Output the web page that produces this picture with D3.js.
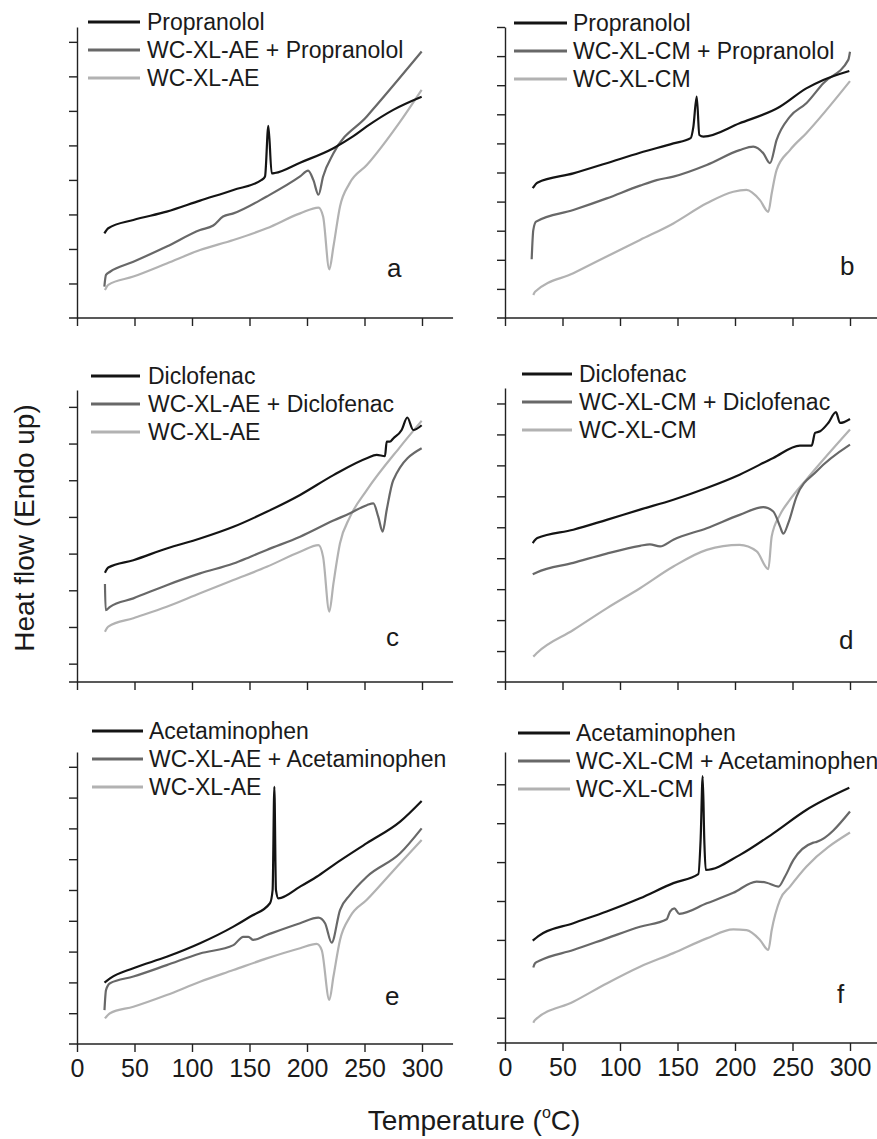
<!DOCTYPE html>
<html>
<head>
<meta charset="utf-8">
<script src="https://cdn.jsdelivr.net/npm/d3@7"></script>
<style>
body { margin: 0; background: #fff; }
svg { display: block; font-family: "Liberation Sans", Arial, sans-serif; }
</style>
</head>
<body>
<div id="chart"></div>
<script>

///////////////////////////////////////////////////////////////////////
// DSC curves, [ temperature (C), heat flow (arb. units) ]

const a_drug = [ [23.8,2.45],[27.2,2.60],[49,2.84],[78,3.08],[107,3.40],[136,3.71],[160.6,4.0],[163.5,4.10],[166.4,5.57],[169.3,4.19],[172,4.2],[194,4.50],[223,4.92],[240,5.26],[252,5.55],[275,6.03],[299.7,6.41] ];
const a_mix  = [ [23.8,0.91],[25.2,1.25],[28.7,1.34],[49,1.63],[78,2.07],[107,2.55],[118.5,2.68],[127,2.94],[136,3.03],[165,3.52],[194,4.10],[201,4.27],[205.5,4.0],[210,3.57],[214,4.10],[223,4.77],[252,5.84],[299.7,7.72] ];
const a_poly = [ [24.3,0.81],[27.2,0.96],[49,1.20],[78,1.58],[107,1.97],[136,2.26],[165,2.60],[194,3.03],[210,3.20],[214,2.94],[219.4,1.41],[223,2.07],[228.7,3.23],[237,3.90],[252,4.43],[281,5.69],[299.7,6.61] ];

const b_drug = [ [24.1,4.46],[28.1,4.65],[59.4,4.97],[88.4,5.32],[117.4,5.68],[146.4,6.00],[161.4,6.18],[163.8,6.57],[166.7,7.61],[169,6.29],[172.5,6.23],[204,6.69],[239,7.26],[262,7.89],[276.8,8.18],[299.4,8.49] ];
const b_mix  = [ [23.2,2.02],[24.6,3.02],[27,3.31],[59.4,3.71],[88.4,4.11],[117.4,4.55],[131.9,4.74],[146.4,4.86],[175.4,5.26],[204,5.77],[215.9,5.89],[224.6,5.66],[230.4,5.32],[236.2,6.12],[247.8,6.92],[262,7.38],[276.8,8.07],[298.5,8.87],[300,9.15] ];
const b_poly = [ [24.6,0.79],[26.1,0.90],[59.4,1.54],[88.4,2.11],[117.4,2.68],[146.4,3.25],[175.4,3.94],[198.5,4.34],[210,4.40],[221.7,4.05],[229,3.65],[231.9,4.28],[236.2,5.09],[247.8,5.77],[262,6.35],[300,8.14] ];

const c_drug = [ [24.3,2.98],[27.2,3.12],[49,3.32],[78,3.64],[107,3.91],[136,4.23],[165,4.64],[194,5.10],[223,5.64],[252,6.10],[260.6,6.19],[267.8,6.16],[269.3,6.55],[272,6.55],[275,6.64],[282.3,6.87],[287.2,7.21],[292.4,6.87],[299.7,7.00] ];
const c_mix  = [ [24.3,2.67],[24.9,1.96],[28.7,2.05],[49,2.28],[78,2.64],[107,2.96],[136,3.23],[150.4,3.41],[165,3.60],[194,3.96],[223,4.40],[237.4,4.60],[252,4.82],[257.7,4.87],[262,4.50],[265.8,4.10],[269.3,4.69],[275,5.50],[299.7,6.37] ];
const c_poly = [ [24.3,1.37],[27.2,1.51],[49,1.74],[78,2.05],[107,2.42],[136,2.78],[165,3.14],[194,3.55],[210,3.73],[214,3.41],[219.4,1.92],[223,2.69],[228.7,3.78],[237.4,4.50],[252,5.23],[281,6.41],[299.7,7.12] ];

const d_drug = [ [24.1,4.49],[28.1,4.65],[59.4,4.92],[88.4,5.24],[117.4,5.57],[146.4,5.89],[175.4,6.27],[204,6.70],[233.3,7.24],[256.5,7.64],[266.7,7.64],[269.6,8.05],[274,8.10],[281.1,8.37],[287.8,8.72],[291.3,8.37],[300,8.50] ];
const d_mix  = [ [24.1,3.48],[27.5,3.54],[59.4,3.85],[88.4,4.15],[117.4,4.40],[126,4.45],[134.8,4.38],[146.4,4.60],[175.4,4.97],[204,5.40],[224.6,5.65],[233.3,5.51],[239.1,5.03],[242,4.79],[246.4,5.14],[253.6,6.0],[271,6.81],[300,7.67] ];
const d_poly = [ [24.6,0.82],[27.5,0.93],[59.4,1.68],[88.4,2.38],[117.4,3.03],[146.4,3.73],[175.4,4.27],[204,4.43],[218.9,4.22],[229,3.65],[231.9,4.70],[239.1,5.40],[247.8,5.89],[262,6.54],[300,8.16] ];

const e_drug = [ [23.9,1.99],[28.7,2.13],[49,2.46],[78,2.83],[107,3.27],[136,3.81],[150.4,4.13],[167.8,4.57],[170.1,5.0],[171.6,8.35],[173,5.0],[175.1,4.73],[194,5.11],[208.4,5.43],[223,5.81],[252,6.52],[281,7.22],[299.7,7.89] ];
const e_mix  = [ [23.9,1.10],[25.2,1.75],[28.7,1.97],[49,2.19],[78,2.56],[107,2.94],[136,3.21],[144.6,3.48],[149,3.48],[153.3,3.38],[165,3.54],[194,3.92],[209.9,4.10],[215.7,3.92],[221.4,3.29],[228.7,4.35],[237.4,4.84],[252,5.43],[281,6.19],[299.7,7.00] ];
const e_poly = [ [24.3,0.83],[28.7,1.00],[49,1.21],[78,1.59],[107,2.02],[136,2.40],[165,2.78],[194,3.11],[208.4,3.25],[212.8,3.05],[219.4,1.43],[223,2.19],[228.7,3.38],[237.4,4.13],[252,4.68],[281,5.87],[299.7,6.62] ];

const f_drug = [ [24.1,2.63],[29,2.75],[59.4,3.08],[88.4,3.38],[117.4,3.72],[146.4,4.11],[168.1,4.34],[170.1,5.22],[171.9,6.86],[173.3,5.22],[174.5,4.45],[204,4.83],[233.3,5.39],[262,5.99],[299.4,6.56] ];
const f_mix  = [ [24.6,1.94],[26.1,2.05],[30.4,2.12],[59.4,2.39],[88.4,2.69],[117.4,2.99],[140.6,3.18],[143.5,3.38],[147.2,3.46],[151.6,3.32],[175.4,3.59],[198.5,3.86],[218.8,4.15],[227.5,4.12],[237.7,4.02],[243.5,4.28],[250.7,4.70],[268.1,5.15],[271,5.17],[300,5.95] ];
const f_poly = [ [24.6,0.52],[26.1,0.59],[59.4,1.06],[88.4,1.53],[117.4,1.96],[146.4,2.31],[175.4,2.69],[198.5,2.92],[210.1,2.90],[221.7,2.65],[229,2.39],[231.9,2.90],[239.1,3.68],[247.8,4.02],[262,4.53],[300,5.41] ];

const labels_a = [ "Propranolol", "WC-XL-AE + Propranolol", "WC-XL-AE" ];
const labels_b = [ "Propranolol", "WC-XL-CM + Propranolol", "WC-XL-CM" ];
const labels_c = [ "Diclofenac", "WC-XL-AE + Diclofenac", "WC-XL-AE" ];
const labels_d = [ "Diclofenac", "WC-XL-CM + Diclofenac", "WC-XL-CM" ];
const labels_e = [ "Acetaminophen", "WC-XL-AE + Acetaminophen", "WC-XL-AE" ];
const labels_f = [ "Acetaminophen", "WC-XL-CM + Acetaminophen", "WC-XL-CM" ];

const x_ticks = [ 0, 50, 100, 150, 200, 250, 300 ];

const yticks_a = [ 1, 2, 3, 4, 5, 6, 7, 8 ];
const yticks_b = [ 1, 2, 3, 4, 5, 6, 7, 8, 9, 10 ];
const yticks_c = [ 0.5, 1.5, 2.5, 3.5, 4.5, 5.5, 6.5, 7.5 ];
const yticks_d = [ 1, 2, 3, 4, 5, 6, 7, 8, 9 ];
const yticks_e = [ 1, 2, 3, 4, 5, 6, 7, 8, 9 ];
const yticks_f = [ 0.65, 1.65, 2.65, 3.65, 4.65, 5.65, 6.65 ];

const colors = [ "#141414", "#686868", "#b2b2b2" ];

///////////////////////////////////////////////////////////////////////

const width = 877, height = 1139;

let svg = d3.select( "#chart" )
	.append( "svg" )
		.attr( "width", width )
		.attr( "height", height );

// panel layout: y-axis x, x-axis y, top of y-axis, legend [ x1, x2, text x, row y ], letter [ x, y ]
let panels = [
	{ id: "a", x0: 77,  base: 318,  top: 27,  vmax: 8.43, yt: yticks_a, labels: labels_a, series: [ a_drug, a_mix, a_poly ], leg: [ 88, 140, 147, 22 ],  letter: [ 387, 277 ],  xlab: false },
	{ id: "b", x0: 505, base: 318,  top: 27,  vmax: 10,   yt: yticks_b, labels: labels_b, series: [ b_drug, b_mix, b_poly ], leg: [ 514, 567, 573, 23 ], letter: [ 840, 275 ],  xlab: false },
	{ id: "c", x0: 77,  base: 682,  top: 390, vmax: 7.96, yt: yticks_c, labels: labels_c, series: [ c_drug, c_mix, c_poly ], leg: [ 91, 140, 148, 376 ], letter: [ 386, 646 ],  xlab: false },
	{ id: "d", x0: 505, base: 682,  top: 388, vmax: 9.5,  yt: yticks_d, labels: labels_d, series: [ d_drug, d_mix, d_poly ], leg: [ 522, 572, 579, 374 ], letter: [ 839, 649 ],  xlab: false },
	{ id: "e", x0: 77,  base: 1044, top: 752, vmax: 9.48, yt: yticks_e, labels: labels_e, series: [ e_drug, e_mix, e_poly ], leg: [ 92, 143, 149, 731 ], letter: [ 385, 1005 ], xlab: true },
	{ id: "f", x0: 505, base: 1043, top: 752, vmax: 7.48, yt: yticks_f, labels: labels_f, series: [ f_drug, f_mix, f_poly ], leg: [ 518, 570, 576, 733 ], letter: [ 837, 1003 ], xlab: true }
];

function draw_panel( p )	{

	let g = svg.append( "g" );

	let x = d3.scaleLinear().domain( [ 0, 300 ] ).range( [ p.x0, p.x0 + 345 ] );
	let y = d3.scaleLinear().domain( [ 0, p.vmax ] ).range( [ p.base, p.top ] );

	// x axis
	let xa = g.append( "g" )
		.attr( "transform", "translate(0," + p.base + ")" )
		.call(
			d3.axisBottom( x )
				.tickValues( x_ticks )
				.tickSize( 8 )
				.tickSizeOuter( 0 )
				.tickPadding( 7 )
				.tickFormat( p.xlab ? d3.format( "d" ) : "" )
		);
	xa.select( ".domain" ).remove();
	xa.append( "line" )
		.attr( "x1", p.x0 - 8 )
		.attr( "x2", x( 327 ) )
		.attr( "stroke", "#222" );
	xa.selectAll( "line" ).attr( "stroke", "#222" ).attr( "stroke-width", 1.4 );
	xa.selectAll( "text" )
		.attr( "fill", "#1a1a1a" )
		.style( "font-size", "25px" )
		.style( "font-family", "'Liberation Sans', Arial, sans-serif" );

	// y axis
	let ya = g.append( "g" )
		.attr( "transform", "translate(" + p.x0 + ",0)" )
		.call(
			d3.axisLeft( y )
				.tickValues( p.yt )
				.tickSize( 8 )
				.tickSizeOuter( 0 )
				.tickFormat( "" )
		);
	ya.select( ".domain" ).attr( "stroke", "#222" ).attr( "stroke-width", 1.4 );
	ya.selectAll( "line" ).attr( "stroke", "#222" ).attr( "stroke-width", 1.4 );

	// legend
	for( let i=0; i< 3; i++ )	{
		let ry = p.leg[ 3 ] + i * 28;
		g.append( "line" )
			.attr( "x1", p.leg[ 0 ] )
			.attr( "x2", p.leg[ 1 ] )
			.attr( "y1", ry )
			.attr( "y2", ry )
			.attr( "stroke", colors[ i ] )
			.attr( "stroke-width", 3 );
		g.append( "text" )
			.attr( "x", p.leg[ 2 ] )
			.attr( "y", ry + 8 )
			.attr( "fill", "#1a1a1a" )
			.style( "font-size", "23px" )
			.text( p.labels[ i ] );
	}

	// curves
	let line = d3.line()
		.x( d => x( d[ 0 ] ) )
		.y( d => y( d[ 1 ] ) )
		.curve( d3.curveMonotoneX );

	for( let i= 2; i >= 0; i-- )	{
		g.append( "path" )
			.datum( p.series[ i ] )
			.attr( "d", line )
			.attr( "fill", "none" )
			.attr( "stroke", colors[ i ] )
			.attr( "stroke-width", 2.2 )
			.attr( "stroke-linejoin", "round" );
	}

	g.append( "text" )
		.attr( "x", p.letter[ 0 ] )
		.attr( "y", p.letter[ 1 ] )
		.attr( "fill", "#1a1a1a" )
		.style( "font-size", "26px" )
		.text( p.id );
}

panels.forEach( draw_panel );

// axis titles
svg.append( "text" )
	.attr( "transform", "translate(34,528) rotate(-90)" )
	.attr( "text-anchor", "middle" )
	.attr( "fill", "#1a1a1a" )
	.style( "font-size", "28px" )
	.text( "Heat flow (Endo up)" );

let xt = svg.append( "text" )
	.attr( "x", 474 )
	.attr( "y", 1130 )
	.attr( "text-anchor", "middle" )
	.attr( "fill", "#1a1a1a" )
	.style( "font-size", "28px" );
xt.append( "tspan" ).text( "Temperature (" );
xt.append( "tspan" ).attr( "dy", -12 ).style( "font-size", "16px" ).text( "o" );
xt.append( "tspan" ).attr( "dy", 12 ).text( "C)" );

</script>
</body>
</html>
